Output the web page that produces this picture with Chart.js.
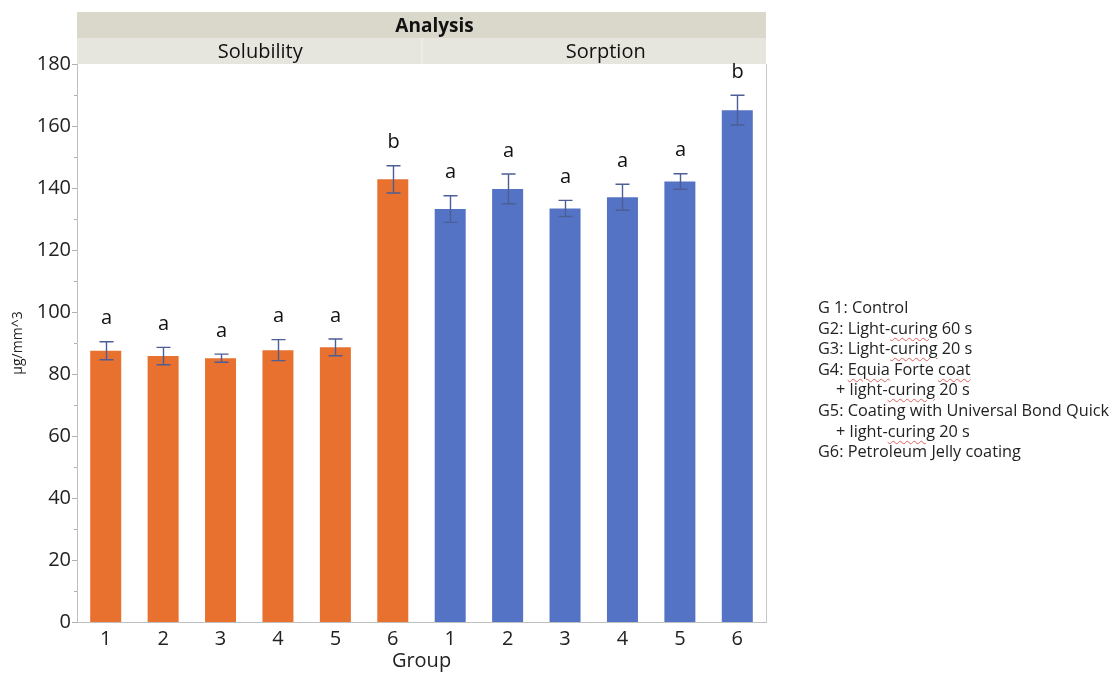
<!DOCTYPE html>
<html>
<head>
<meta charset="utf-8">
<script src="https://cdn.jsdelivr.net/npm/chart.js"></script>
<style>
  body { margin: 0; background: #fff; }
  #wrap { position: relative; width: 1116px; height: 673px; }
  #notes {
    position: absolute; left: 818px; top: 297px;
    font-family: "Open Sans", sans-serif; font-size: 16.3px; line-height: 20.6px;
    color: #222; white-space: nowrap;
  }
  #notes .ind { padding-left: 18px; }
  #notes .sp { text-decoration: underline wavy #e06060; text-decoration-thickness: 1px; text-underline-offset: 3px; }
</style>
</head>
<body>
<div id="wrap">
  <canvas id="barras" width="1116" height="673"></canvas>
  <div id="notes">
    <div>G 1: Control</div>
    <div>G2: Light-<span class="sp">curing</span> 60 s</div>
    <div>G3: Light-<span class="sp">curing</span> 20 s</div>
    <div>G4: <span class="sp">Equia</span> Forte <span class="sp">coat</span></div>
    <div class="ind">+ light-<span class="sp">curing</span> 20 s</div>
    <div>G5: Coating with Universal Bond Quick</div>
    <div class="ind">+ light-<span class="sp">curing</span> 20 s</div>
    <div>G6: Petroleum Jelly coating</div>
  </div>
</div>
<script>
// Datos de solubilidad y sorción por grupo (µg/mm^3)
const grupos = ['1', '2', '3', '4', '5', '6'];
const solubilidad = [87.5, 85.8, 85.1, 87.7, 88.6, 142.8];
const solubilidadErr = [2.9, 2.8, 1.3, 3.4, 2.7, 4.4];
const sorcion = [133.2, 139.7, 133.4, 137.0, 142.1, 165.1];
const sorcionErr = [4.3, 4.8, 2.6, 4.2, 2.5, 4.8];
const letrasSolubilidad = ['a', 'a', 'a', 'a', 'a', 'b'];
const letrasSorcion = ['a', 'a', 'a', 'a', 'a', 'b'];
const paneles = ['Solubility', 'Sorption'];
const yTicks = [0, 20, 40, 60, 80, 100, 120, 140, 160, 180];

const NARANJA = '#E8712F';
const AZUL = '#5573C4';
const FUENTE = '"Open Sans", "Noto Sans", sans-serif';

const etiquetas = grupos.concat(grupos);
const valores = solubilidad.concat(sorcion);
const errores = solubilidadErr.concat(sorcionErr);
const letras = letrasSolubilidad.concat(letrasSorcion);
const colores = grupos.map(() => NARANJA).concat(grupos.map(() => AZUL));

// Cabecera tipo JMP: banda "Analysis" y una banda por panel
const cabecera = {
  id: 'cabecera',
  beforeDraw(chart) {
    const { ctx, chartArea: a } = chart;
    const mid = (a.left + a.right) / 2;
    ctx.save();
    ctx.fillStyle = '#DAD8CA';
    ctx.fillRect(a.left, 12, a.right - a.left, 26);
    ctx.fillStyle = '#E7E6DE';
    ctx.fillRect(a.left, 38, a.right - a.left, a.top - 38);
    ctx.strokeStyle = '#F4F3EE';
    ctx.lineWidth = 1;
    ctx.beginPath();
    ctx.moveTo(mid + 0.5, 38); ctx.lineTo(mid + 0.5, a.top);
    ctx.stroke();
    ctx.fillStyle = '#111';
    ctx.textAlign = 'center';
    ctx.textBaseline = 'middle';
    ctx.font = 'bold 19px ' + FUENTE;
    ctx.fillText('Analysis', mid + 13, 27);
    ctx.font = '20px ' + FUENTE;
    ctx.fillText(paneles[0], (a.left + mid) / 2 + 11, 52);
    ctx.fillText(paneles[1], (mid + a.right) / 2 + 12, 52);
    // borde derecho del área
    ctx.strokeStyle = '#C8C8C8';
    ctx.beginPath();
    ctx.moveTo(a.right + 0.5, a.top); ctx.lineTo(a.right + 0.5, a.bottom);
    ctx.stroke();
    ctx.restore();
  }
};

// Marcas de eje Y (mayores y menores)
const marcasY = {
  id: 'marcasY',
  afterDraw(chart) {
    const { ctx } = chart;
    const y = chart.scales.y;
    const x0 = chart.chartArea.left;
    ctx.save();
    ctx.strokeStyle = '#B0B0B0';
    ctx.lineWidth = 1;
    for (let v = 0; v <= 180; v += 10) {
      const py = Math.round(y.getPixelForValue(v)) + 0.5;
      const len = v % 20 === 0 ? 5 : 3;
      ctx.beginPath();
      ctx.moveTo(x0 - len, py); ctx.lineTo(x0, py);
      ctx.stroke();
    }
    ctx.restore();
  }
};

// Barras de error y letras de significancia
const errorYLetras = {
  id: 'errorYLetras',
  afterDatasetsDraw(chart) {
    const { ctx } = chart;
    const y = chart.scales.y;
    const meta = chart.getDatasetMeta(0);
    ctx.save();
    meta.data.forEach((bar, i) => {
      const v = valores[i], e = errores[i];
      const top = y.getPixelForValue(v + e);
      const bot = y.getPixelForValue(v - e);
      const cx = Math.round(bar.x) + 0.5;
      ctx.strokeStyle = '#4D5E96';
      ctx.lineWidth = 1.4;
      ctx.beginPath();
      ctx.moveTo(cx, top); ctx.lineTo(cx, bot);
      ctx.moveTo(cx - 7, top); ctx.lineTo(cx + 7, top);
      ctx.moveTo(cx - 7, bot); ctx.lineTo(cx + 7, bot);
      ctx.stroke();
      ctx.fillStyle = '#111';
      ctx.font = '20px ' + FUENTE;
      ctx.textAlign = 'center';
      ctx.textBaseline = 'middle';
      ctx.fillText(letras[i], cx, top - 23);
    });
    ctx.restore();
  }
};

new Chart(document.getElementById('barras').getContext('2d'), {
  type: 'bar',
  data: {
    labels: etiquetas,
    datasets: [{
      data: valores,
      backgroundColor: colores,
      borderWidth: 0,
      categoryPercentage: 1,
      barPercentage: 0.54
    }]
  },
  options: {
    responsive: false,
    animation: false,
    layout: { padding: { top: 64, right: 350, bottom: 0, left: 0 } },
    plugins: { legend: { display: false }, tooltip: { enabled: false } },
    scales: {
      x: {
        grid: { display: false, drawTicks: false },
        border: { display: true, color: '#C0C0C0', width: 1 },
        ticks: { color: '#222', font: { family: FUENTE, size: 20 }, padding: 5, maxRotation: 0 },
        title: { display: true, text: 'Group', color: '#222', font: { family: FUENTE, size: 20 }, padding: { top: -7, bottom: 0 } },
        afterFit(s) { s.height = 51; }
      },
      y: {
        min: 0,
        max: 180,
        afterBuildTicks(s) { s.ticks = yTicks.map(v => ({ value: v })); },
        grid: { display: false, drawTicks: false },
        border: { display: true, color: '#C0C0C0', width: 1 },
        ticks: { color: '#222', font: { family: FUENTE, size: 20 }, padding: 6 },
        title: { display: true, text: 'µg/mm^3', color: '#222', font: { family: FUENTE, size: 14 }, padding: { top: 10, bottom: 0 } },
        afterFit(s) { s.width = 77; }
      }
    }
  },
  plugins: [cabecera, marcasY, errorYLetras]
});
</script>
</body>
</html>
